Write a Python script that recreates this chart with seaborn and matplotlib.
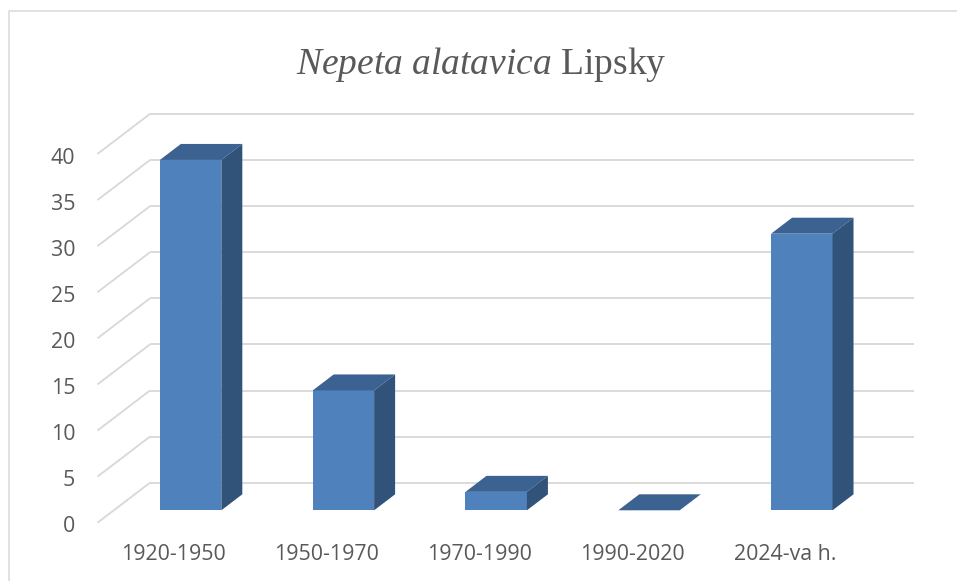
import matplotlib
matplotlib.use('Agg')
import matplotlib.pyplot as plt
from matplotlib.lines import Line2D
import pandas as pd
import seaborn as sns

periods = ['1920-1950', '1950-1970', '1970-1990', '1990-2020', '2024-va h.']
counts = [38, 13, 2, 0, 30]
y_ticks = [0, 5, 10, 15, 20, 25, 30, 35, 40]

W, H = 957, 581
FRONT = '#4F81BD'
TOP = '#3B6291'
SIDE = '#315279'
GRID = '#D9D9D9'
TEXT = '#595959'

sns.set_theme(style='white')
plt.rcParams['font.family'] = ['Open Sans', 'DejaVu Sans']
plt.rcParams['mathtext.fontset'] = 'custom'
plt.rcParams['mathtext.it'] = 'Liberation Serif:italic'
plt.rcParams['mathtext.rm'] = 'Liberation Serif'


def make_axes(fig, left, right, bottom, top):
    # pixel box (from top left of the image) to figure fractions
    ax = fig.add_axes([left / W, 1 - bottom / H, (right - left) / W, (bottom - top) / H])
    ax.set_xlim(-0.5, 4.5)
    ax.set_ylim(0, 40)
    ax.patch.set_alpha(0)
    sns.despine(ax=ax, left=True, bottom=True)
    ax.tick_params(length=0)
    ax.set_xticks([])
    ax.set_yticks([])
    return ax


fig = plt.figure(figsize=(W / 100, H / 100), dpi=100, facecolor='white')

# three planes of the fake 3D box: back wall, bars, front edge with the labels
ax_back = make_axes(fig, 150, 914, 482.7, 113.9)
ax_bars = make_axes(fig, 114.2, 878.2, 510.3, 141.5)
ax_front = make_axes(fig, 97.5, 861.5, 524.5, 155.7)

px_x = 764 / 5
px_y = 368.8 / 40

# back wall lines and the diagonals running to the front edge
for v in y_ticks:
    ax_back.plot([-0.5, 4.5], [v, v], color=GRID, lw=1.35, clip_on=False, solid_capstyle='butt')
    ax_back.plot([-0.5, -0.5 - 52.5 / px_x], [v, v - 40 / px_y], color=GRID, lw=1.35, clip_on=False,
                 solid_capstyle='butt')

df = pd.DataFrame({'period': periods, 'count': counts})
sns.barplot(data=df, x='period', y='count', ax=ax_bars, color=FRONT, saturation=1, width=0.402, linewidth=0)
ax_bars.set_xlim(-0.5, 4.5)
ax_bars.set_ylim(0, 40)
ax_bars.set_xlabel('')
ax_bars.set_ylabel('')
ax_bars.set_xticks([])
ax_bars.set_yticks([])

# depth of each bar, built from the bar itself
dx = 21 / px_x
dy = 16 / px_y
for bar in ax_bars.patches:
    x0 = bar.get_x()
    x1 = x0 + bar.get_width()
    h = bar.get_height()
    ax_bars.fill([x0, x1, x1 + dx, x0 + dx], [h, h, h + dy, h + dy], color=TOP, lw=0, clip_on=False)
    if h > 0:
        ax_bars.fill([x1, x1 + dx, x1 + dx, x1], [0, dy, h + dy, h], color=SIDE, lw=0, clip_on=False)

ax_front.set_xticks(range(len(periods)))
ax_front.set_xticklabels(periods, fontsize=15.4, color=TEXT)
ax_front.set_yticks(y_ticks)
ax_front.set_yticklabels(y_ticks, fontsize=15.4, color=TEXT)
ax_front.tick_params(axis='x', pad=14)
ax_front.tick_params(axis='y', pad=16)

fig.text(481 / W, 1 - 65 / H, r'$\mathit{Nepeta\ alatavica}$ Lipsky', fontsize=27, color=TEXT,
         family='Liberation Serif', ha='center', va='center')

# chart frame: only left and top are inside the crop
fig.add_artist(Line2D([8.5 / W, 8.5 / W, 1], [0, 1 - 10.5 / H, 1 - 10.5 / H], color=GRID, lw=1.1))

fig.savefig('out.png', dpi=100)
plt.close(fig)
